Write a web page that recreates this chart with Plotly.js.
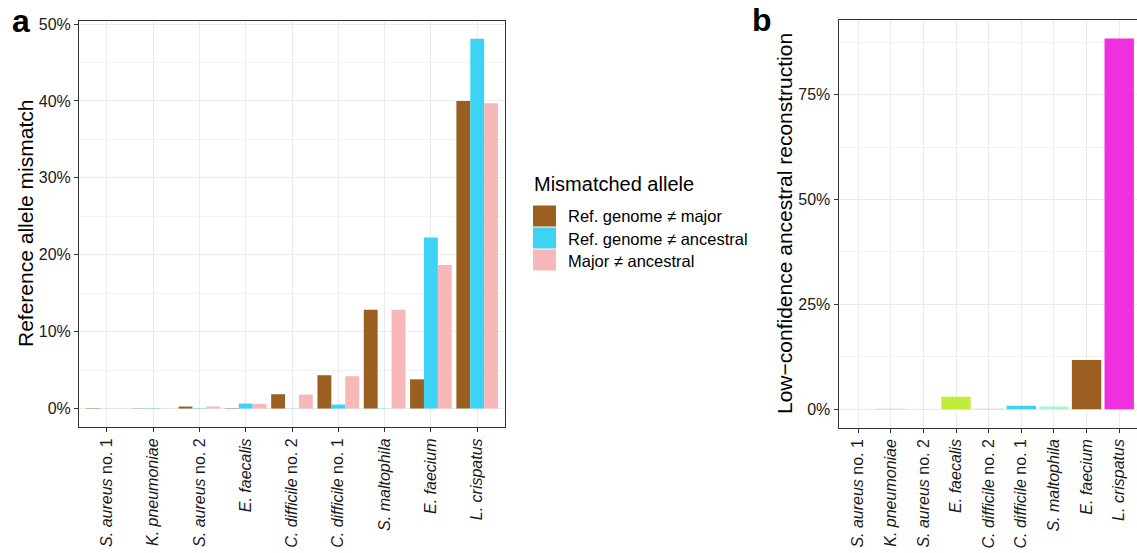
<!DOCTYPE html>
<html>
<head>
<meta charset="utf-8">
<script src="https://cdn.plot.ly/plotly-3.0.1.min.js"></script>
<style>
  html, body { margin: 0; padding: 0; background: #fff; overflow: hidden; }
  #chart { width: 1137px; height: 553px; }
</style>
</head>
<body>
<div id="chart"></div>
<script>
// ---- data ----
const categories = ['S. aureus no. 1', 'K. pneumoniae', 'S. aureus no. 2', 'E. faecalis',
  'C. difficile no. 2', 'C. difficile no. 1', 'S. maltophila', 'E. faecium', 'L. crispatus'];
const tickLabels = ['<i>S. aureus</i> no. 1', '<i>K. pneumoniae</i>', '<i>S. aureus</i> no. 2',
  '<i>E. faecalis</i>', '<i>C. difficile</i> no. 2', '<i>C. difficile</i> no. 1',
  '<i>S. maltophila</i>', '<i>E. faecium</i>', '<i>L. crispatus</i>'];
const seriesNames = ['Ref. genome \u2260 major', 'Ref. genome \u2260 ancestral', 'Major \u2260 ancestral'];
const refVsMajor       = [0.05, 0.03, 0.26, 0.05, 1.86, 4.33, 12.86, 3.8, 40.0];
const refVsAncestral   = [0.02, 0.05, 0.05, 0.65, 0.02, 0.52, 0.03, 22.25, 48.1];
const majorVsAncestral = [0.02, 0.02, 0.26, 0.6, 1.82, 4.2, 12.86, 18.66, 39.7];
const lowConfidence    = [0, 0.1, 0.05, 2.95, 0.1, 0.8, 0.65, 11.75, 88.4];
const yTicksA = [0, 10, 20, 30, 40, 50];
const yTicksB = [0, 25, 50, 75];

// ---- styles ----
const seriesColors = ['#9b5f21', '#3dd3f5', '#f7b8b9'];
const speciesColors = ['#f5a0a0', '#d9a8e8', '#f3f0b0', '#c0ec3a', '#b8b8f0', '#3dd3f5', '#a8f5cf', '#9b5f21', '#ef2fe0'];
const W = 1137, H = 553;
const px = x => x / W;
const py = y => 1 - y / H;
const FONT = 'Liberation Sans, Arial, Helvetica, sans-serif';

const seriesData = [refVsMajor, refVsAncestral, majorVsAncestral];
const traces = seriesData.map((vals, i) => ({
  type: 'bar', x: categories, y: vals, name: seriesNames[i],
  marker: {color: seriesColors[i], line: {width: 0}},
  xaxis: 'x', yaxis: 'y', showlegend: false
}));
traces.push({
  type: 'bar', x: categories, y: lowConfidence, name: 'Low-confidence',
  marker: {color: speciesColors, line: {width: 0}},
  xaxis: 'x2', yaxis: 'y2', showlegend: false
});

const gridC = '#ebebeb';
function xAxis(domain, range) {
  return {
    domain: domain, range: range, type: 'category',
    tickmode: 'array', tickvals: categories, ticktext: tickLabels,
    tickangle: -90, ticks: 'outside', ticklen: 4, tickcolor: '#333',
    tickfont: {size: 16, color: '#1a1a1a', family: FONT},
    showgrid: true, gridcolor: gridC, gridwidth: 1,
    showline: true, mirror: true, linecolor: '#333', linewidth: 1,
    zeroline: false, automargin: false, fixedrange: true
  };
}
function yAxis(domain, range, vals, minorStep, anchor, mirror) {
  return {
    domain: domain, range: range, anchor: anchor,
    tickmode: 'array', tickvals: vals, ticktext: vals.map(v => v + '%'),
    ticks: 'outside', ticklen: 4, tickcolor: '#333',
    tickfont: {size: 16, color: '#1a1a1a', family: FONT},
    showgrid: true, gridcolor: gridC, gridwidth: 1,
    minor: {tickmode: 'linear', tick0: minorStep, dtick: minorStep * 2, showgrid: true, gridcolor: '#f2f2f2', gridwidth: 1, ticks: ''},
    showline: true, mirror: mirror, linecolor: '#333', linewidth: 1,
    zeroline: false, automargin: false, fixedrange: true
  };
}

const annotations = [
  {text: '<b>a</b>', x: px(10), y: py(21), xref: 'paper', yref: 'paper', xanchor: 'left', yanchor: 'middle',
   showarrow: false, font: {size: 32, color: '#000', family: FONT}},
  {text: '<b>b</b>', x: px(750), y: py(20), xref: 'paper', yref: 'paper', xanchor: 'left', yanchor: 'middle',
   showarrow: false, font: {size: 32, color: '#000', family: FONT}},
  {text: 'Reference allele mismatch', x: px(26), y: py(224), xref: 'paper', yref: 'paper',
   xanchor: 'center', yanchor: 'middle', textangle: -90, showarrow: false,
   font: {size: 21, color: '#000', family: FONT}},
  {text: 'Low\u2212confidence ancestral reconstruction', x: px(785), y: py(224), xref: 'paper', yref: 'paper',
   xanchor: 'center', yanchor: 'middle', textangle: -90, showarrow: false,
   font: {size: 21, color: '#000', family: FONT}},
  {text: 'Mismatched allele', x: px(532), y: py(184), xref: 'paper', yref: 'paper',
   xanchor: 'left', yanchor: 'middle', showarrow: false,
   font: {size: 20, color: '#000', family: FONT}}
];
const shapes = [];
const legendTop = 205.5, itemH = 22;
seriesNames.forEach((n, i) => {
  const y0 = legendTop + i * itemH;
  shapes.push({type: 'rect', xref: 'paper', yref: 'paper', x0: px(533), x1: px(556),
    y0: py(y0 + itemH - 1), y1: py(y0), fillcolor: seriesColors[i], line: {width: 0}});
  annotations.push({text: n, x: px(566), y: py(y0 + itemH / 2), xref: 'paper', yref: 'paper',
    xanchor: 'left', yanchor: 'middle', showarrow: false,
    font: {size: 16.5, color: '#000', family: FONT}});
});

const layout = {
  width: W, height: H, margin: {l: 0, r: 0, t: 0, b: 0},
  paper_bgcolor: '#fff', plot_bgcolor: '#fff',
  barmode: 'group', bargap: 0.1, bargroupgap: 0,
  showlegend: false,
  font: {family: FONT},
  xaxis: xAxis([px(79), px(505)], [-0.6, 8.6]),
  yaxis: yAxis([py(427), py(21)], [-2.4, 50.4], yTicksA, 5, 'x', true),
  xaxis2: Object.assign(xAxis([px(838.5), 1], [-0.6, 8.545]), {anchor: 'y2'}),
  yaxis2: yAxis([py(427.7), py(20)], [-4.42, 92.8], yTicksB, 12.5, 'x2', false),
  annotations: annotations,
  shapes: shapes
};

Plotly.newPlot('chart', traces, layout, {staticPlot: true, displayModeBar: false});
</script>
</body>
</html>
